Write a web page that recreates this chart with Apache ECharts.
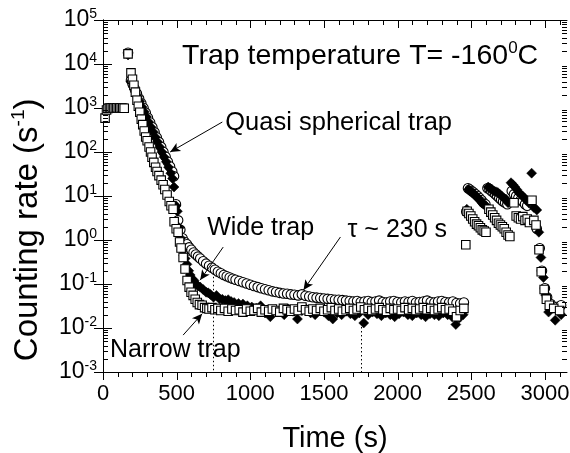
<!DOCTYPE html>
<html><head><meta charset="utf-8">
<script src="https://cdn.jsdelivr.net/npm/echarts@6/dist/echarts.min.js"></script>
<style>html,body{margin:0;padding:0;background:#fff}#c{width:570px;height:453px}</style>
</head><body><div id="c"></div>
<script>
// ---------- data ----------
const xTickValues = [0, 500, 1000, 1500, 2000, 2500, 3000];
const xMinorValues = [100,200,300,400,600,700,800,900,1100,1200,1300,1400,1600,1700,1800,1900,2100,2200,2300,2400,2600,2700,2800,2900,3100];
const yMinorValues = [
 0.002,0.003,0.004,0.005,0.006,0.007,0.008,0.009,
 0.02,0.03,0.04,0.05,0.06,0.07,0.08,0.09,
 0.2,0.3,0.4,0.5,0.6,0.7,0.8,0.9,
 2,3,4,5,6,7,8,9,
 20,30,40,50,60,70,80,90,
 200,300,400,500,600,700,800,900,
 2000,3000,4000,5000,6000,7000,8000,9000,
 20000,30000,40000,50000,60000,70000,80000,90000];

// Quasi spherical trap (open circles)
const quasiT = [170,190,200,215,230,245,260,275,290,305,320,335,350,365,380,395,410,425,440,455,470,482,495,510,525,540,555,570,585,600,615,630,645,660,680,700,720,740,760,780,800,820,840,860,880,900,925,950,975,1000,1025,1050,1075,1100,1125,1150,1175,1200,1225,1250,1275,1300,1325,1350,1375,1400,1425,1450,1475,1500,1525,1550,1575,1600,1625,1650,1675,1700,1725,1750,1775,1800,1825,1850,1875,1900,1925,1950,1975,2000,2025,2050,2075,2100,2125,2150,2175,2200,2225,2250,2275,2300,2325,2350,2375,2400,2425,2450,
 2466,2478,2490,2503,2516,2530,2543,2556,2570,2583,2596,
 2610,2623,2636,2650,2663,2676,2690,2703,2716,2730,2745,
 2775,2790,2805,2820,2835,2850,2865,2880,
 2945,2965,2980,3000,3015,3040,3080,3110];
const quasiV = [18000,4300,3600,2750,2130,1650,1280,1000,780,600,470,365,280,215,168,130,100,78,60,47,36,28,6.5,2.8,1.7,1.1,0.9,0.8,0.68,0.6,0.52,0.47,0.42,0.38,0.33,0.29,0.26,0.235,0.21,0.19,0.175,0.16,0.15,0.14,0.132,0.125,0.117,0.11,0.103,0.096,0.09,0.085,0.08,0.076,0.072,0.068,0.066,0.063,0.061,0.06,0.058,0.057,0.055,0.058,0.054,0.052,0.05,0.049,0.048,0.047,0.046,0.045,0.044,0.044,0.043,0.042,0.041,0.04,0.041,0.039,0.04,0.041,0.039,0.04,0.042,0.039,0.038,0.04,0.041,0.039,0.038,0.04,0.039,0.041,0.038,0.039,0.04,0.042,0.039,0.038,0.04,0.041,0.039,0.038,0.04,0.037,0.036,0.038,
 4.4,15,14,13,12,11,10,9,8,7,6.5,
 15,14.5,13,12,11,10,9,8.2,7.5,7,6.5,
 13,11,10,9,8,7.5,6.5,6,
 1.8,0.65,0.2,0.08,0.05,0.035,0.03,0.033];

// Wide trap (filled diamonds)
const wideT = [170,190,205,220,235,250,265,280,295,310,325,340,355,370,385,400,415,430,445,460,472,482,495,505,517,527,537,548,558,570,582,592,605,618,630,645,660,680,700,714,730,750,770,790,810,830,850,870,890,920,950,980,1010,1040,1070,1100,1136,1170,1200,1230,1260,1290,1320,1350,1380,1410,1440,1470,1500,1530,1560,1590,1620,1650,1680,1710,1740,1770,1800,1830,1860,1890,1920,1950,1980,2010,2040,2070,2100,2130,2160,2190,2220,2250,2280,2310,2340,2370,2395,2420,2445,
 2470,2482,2495,2508,2521,2534,2547,2560,2573,2586,2599,
 2615,2628,2641,2654,2667,2680,2693,2706,2720,2735,2750,
 2770,2783,2796,2809,2822,2835,2848,2861,2875,2890,2910,2925,2945,
 2959,2973,2990,3005,3025,3070,3110];
const wideV = [16000,4000,3000,2300,1800,1400,1050,820,630,480,370,290,220,170,130,100,77,60,45,33,25,16,6,4.5,1.9,1.1,0.6,0.45,0.38,0.28,0.2,0.16,0.13,0.12,0.1,0.09,0.085,0.075,0.065,0.063,0.058,0.05,0.055,0.046,0.045,0.042,0.044,0.04,0.038,0.036,0.035,0.032,0.03,0.028,0.032,0.022,0.018,0.026,0.025,0.02,0.027,0.024,0.016,0.025,0.027,0.022,0.02,0.026,0.023,0.019,0.016,0.022,0.02,0.024,0.021,0.019,0.022,0.013,0.02,0.023,0.021,0.019,0.022,0.02,0.018,0.021,0.023,0.02,0.019,0.022,0.02,0.018,0.021,0.02,0.019,0.022,0.02,0.018,0.012,0.017,0.02,
 5,14,13,12,11,10,9,8,7,6.5,6,
 16,15,14,13,12.5,12,11,10,9,8.5,7,
 20,18,16,14,12,11,10,9,8,7,33,5.5,4.8,
 1.5,0.4,0.14,0.056,0.023,0.015,0.02];

// Narrow trap (open squares)
const narrowT = [14,24,34,44,54,64,74,84,94,104,114,124,134,144,170,190,200,210,220,231,240,250,260,270,280,290,300,313,323,333,345,357,367,380,395,408,420,435,450,462,476,483,497,510,520,530,544,557,571,585,598,612,626,640,655,673,690,705,720,740,760,780,800,825,850,875,900,925,950,975,1000,1025,1050,1075,1100,1125,1150,1175,1200,1225,1250,1275,1300,1325,1350,1375,1400,1425,1450,1475,1500,1525,1550,1575,1600,1625,1650,1675,1700,1725,1750,1775,1800,1825,1850,1875,1900,1925,1950,1975,2000,2025,2050,2075,2100,2125,2150,2175,2200,2225,2250,2275,2300,2325,2350,2375,2400,2425,2450,
 2463,2472,2484,2497,2510,2523,2536,2549,2562,2575,2588,2600,
 2620,2633,2646,2659,2672,2685,2698,2711,2724,2737,2750,2762,
 2790,2805,2820,2835,2850,2865,2880,2895,2912,2925,2940,
 2960,2975,2995,3010,3030,3060,3100];
const narrowV = [590,900,980,1000,1000,1010,1000,1000,1010,1000,1000,1010,1000,990,17000,6300,4500,3300,2300,1500,1100,800,560,420,300,220,180,130,100,76,58,45,36,29,23,18,14,10.5,7.5,6,5,2.6,1.8,1.5,0.9,0.66,0.4,0.22,0.12,0.085,0.065,0.055,0.045,0.038,0.034,0.033,0.029,0.028,0.027,0.029,0.026,0.028,0.025,0.028,0.024,0.027,0.025,0.026,0.023,0.027,0.024,0.025,0.028,0.023,0.026,0.024,0.027,0.025,0.023,0.028,0.026,0.024,0.027,0.025,0.03,0.026,0.024,0.027,0.025,0.028,0.024,0.026,0.029,0.025,0.027,0.024,0.026,0.028,0.025,0.027,0.03,0.026,0.028,0.025,0.027,0.029,0.026,0.024,0.028,0.026,0.027,0.025,0.029,0.026,0.028,0.025,0.027,0.029,0.026,0.028,0.025,0.027,0.029,0.026,0.027,0.024,0.018,0.025,0.028,
 0.78,4.5,4.0,3.5,3.0,2.6,2.3,2.1,1.9,1.7,1.6,1.5,
 5,4.3,3.7,3.2,2.8,2.4,2.2,2,1.8,1.5,1.3,1.2,
 7,3.5,3.2,3.0,3.4,2.8,3.0,2.5,8,2.8,2.2,
 0.6,0.19,0.075,0.045,0.033,0.028,0.025];

// annotations (data coordinates)
const labelTexts = ['Quasi spherical trap', 'Wide trap', '\u03c4 ~ 230 s', 'Narrow trap'];
const labelAt = [[830, 457], [707, 1.87], [1660, 1.69], [48, 0.00316]];
const titleAt = [537, 15000];
const arrows = [
  [[810, 480], [456, 100]],
  [[816, 0.69], [660, 0.123]],
  [[1612, 1.17], [1361, 0.073]],
  [[544, 0.0069], [673, 0.021]]
];
const dottedLines = [
  [[750, 0.18], [750, 0.001]],
  [[1750, 0.013], [1750, 0.001]]
];

// ---------- chart ----------
const FONT = 'Liberation Sans, Arial, sans-serif';
const XMIN = 0, XMAX = 3150, YMIN = 0.001, YMAX = 100000;
const zip = (a, b) => a.map((t, i) => [t, b[i]]);
const chart = echarts.init(document.getElementById('c'), null, {renderer: 'canvas'});

const black = '#000';
const lineSt = {color: black, width: 1};

function xTickSeries(values, len) {
  return {type: 'custom', silent: true, clip: false, z: 5,
    data: values.map(v => [v, YMIN]), encode: {x: 0, y: 1},
    renderItem: function (params, api) {
      const v = api.value(0);
      const pb = api.coord([v, YMIN]);
      const pt = api.coord([v, YMAX]);
      const x = Math.round(pb[0]) + 0.5;
      return {type: 'group', children: [
        {type: 'line', shape: {x1: x, y1: pb[1], x2: x, y2: pb[1] + len}, style: {stroke: black, lineWidth: 1}},
        {type: 'line', shape: {x1: x, y1: pt[1], x2: x, y2: pt[1] + len}, style: {stroke: black, lineWidth: 1}}
      ]};
    }};
}

chart.setOption({
  animation: false,
  backgroundColor: '#fff',
  grid: {left: 103, top: 20, right: 3, bottom: 81, containLabel: false, outerBoundsMode: 'none'},
  xAxis: [{type: 'value', min: XMIN, max: XMAX, interval: 500, position: 'bottom',
    splitLine: {show: false}, axisLine: {show: true, lineStyle: lineSt}, axisTick: {show: false},
    axisLabel: {show: true, margin: 11, fontSize: 22, color: black, fontFamily: FONT,
      formatter: function (v) { return xTickValues.indexOf(v) >= 0 ? String(v) : ''; }},
    name: 'Time (s)', nameLocation: 'middle', nameGap: 52,
    nameTextStyle: {fontSize: 29, color: black, fontFamily: FONT}},
   {type: 'value', min: XMIN, max: XMAX, position: 'top', splitLine: {show: false},
    axisLine: {show: true, lineStyle: lineSt}, axisTick: {show: false}, axisLabel: {show: false}}],
  yAxis: [
    {type: 'log', logBase: 10, min: YMIN, max: YMAX, position: 'left', splitLine: {show: false},
      axisLine: {show: true, lineStyle: lineSt},
      axisTick: {show: true, inside: true, length: 9, lineStyle: lineSt},
      axisLabel: {show: true, margin: 6, color: black, fontFamily: FONT,
        formatter: function (v) { return '{b|10}{s|' + Math.round(Math.log10(v)) + '}'; },
        rich: {b: {fontSize: 23, fontFamily: FONT, color: black},
               s: {fontSize: 14, fontFamily: FONT, color: black, padding: [0, 0, 12, 0]}}}},
    {type: 'log', logBase: 10, min: YMIN, max: YMAX, position: 'right', splitLine: {show: false},
      axisLine: {show: true, lineStyle: lineSt},
      axisTick: {show: true, inside: true, length: 9, lineStyle: lineSt}, axisLabel: {show: false}}
  ],
  series: [
    {type: 'custom', silent: true, clip: false, z: 5,
      data: yMinorValues.map(v => [XMIN, v]), encode: {x: 0, y: 1},
      renderItem: function (params, api) {
        const v = api.value(1);
        const pl = api.coord([XMIN, v]);
        const pr = api.coord([XMAX, v]);
        const y = Math.round(pl[1]) + 0.5;
        return {type: 'group', children: [
          {type: 'line', shape: {x1: pl[0], y1: y, x2: pl[0] + 5, y2: y}, style: {stroke: black, lineWidth: 1}},
          {type: 'line', shape: {x1: pr[0], y1: y, x2: pr[0] - 5, y2: y}, style: {stroke: black, lineWidth: 1}}
        ]};
      }},
    xTickSeries(xTickValues, 8),
    xTickSeries(xMinorValues, 5),
    {name: 'Quasi spherical trap', type: 'scatter', symbol: 'circle', symbolSize: 9.5,
      data: zip(quasiT, quasiV), itemStyle: {color: '#fff', borderColor: black, borderWidth: 1.1, opacity: 1}},
    {name: 'Wide trap', type: 'scatter', symbol: 'diamond', symbolSize: 10,
      data: zip(wideT, wideV), itemStyle: {color: black, borderColor: black, borderWidth: 0.5, opacity: 1}},
    {name: 'Narrow trap', type: 'scatter', symbol: 'rect', symbolSize: 8.5,
      data: zip(narrowT, narrowV), itemStyle: {color: '#fff', borderColor: black, borderWidth: 1.1, opacity: 1},
      markLine: {silent: true, animation: false, label: {show: false},
        data: arrows.map(a => [
          {coord: a[0], symbol: 'none', lineStyle: {color: black, width: 1, type: 'solid'}},
          {coord: a[1], symbol: 'arrow', symbolSize: [7, 10]}
        ]).concat(dottedLines.map(a => [
          {coord: a[0], symbol: 'none', lineStyle: {color: black, width: 1, type: [1.5, 2.5]}},
          {coord: a[1], symbol: 'none'}
        ]))}}
  ]
});

// text annotations positioned via the axis scales
const graphics = [];
const tp = chart.convertToPixel({gridIndex: 0}, titleAt);
graphics.push({type: 'text', x: tp[0], y: tp[1], silent: true,
  style: {text: '{a|Trap temperature T= -160}{s|0}{a|C}', verticalAlign: 'middle', align: 'left',
    rich: {a: {fontSize: 28.5, fontFamily: FONT, fill: black},
           s: {fontSize: 17, fontFamily: FONT, fill: black, padding: [0, 0, 16, 0]}}}});
labelTexts.forEach((t, i) => {
  const p = chart.convertToPixel({gridIndex: 0}, labelAt[i]);
  graphics.push({type: 'text', x: p[0], y: p[1], silent: true,
    style: {text: t, fontSize: i === 0 ? 25.5 : 25, fontFamily: FONT, fill: black, align: 'left', verticalAlign: 'middle'}});
});
// y-axis title (rotated), centred on the left margin
const yMid = chart.convertToPixel({gridIndex: 0}, [XMIN, 1.7]);
graphics.push({type: 'text', x: 28, y: yMid[1], rotation: Math.PI / 2, silent: true,
  style: {text: '{a|Counting rate (s}{s|-1}{a|)}', align: 'center', verticalAlign: 'middle',
    rich: {a: {fontSize: 33, fontFamily: FONT, fill: black},
           s: {fontSize: 19, fontFamily: FONT, fill: black, padding: [0, 0, 18, 0]}}}});
chart.setOption({graphic: graphics});
</script>
</body></html>
